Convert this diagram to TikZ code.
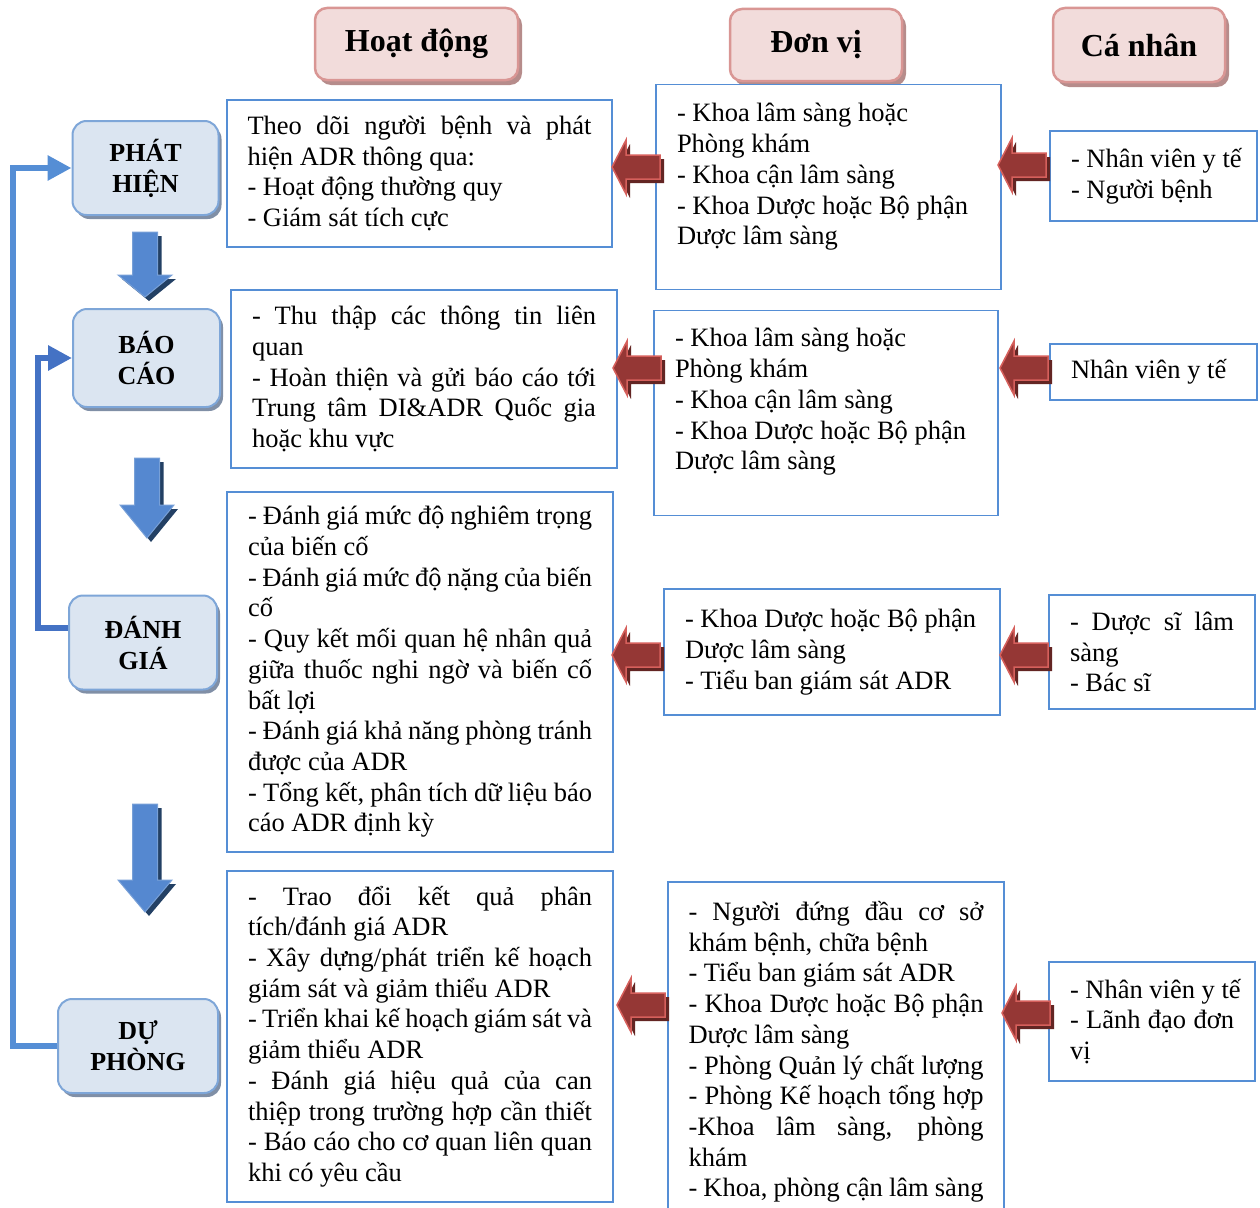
\documentclass[tikz,border=0pt]{standalone}
\usepackage{fontspec}
\setmainfont{Liberation Serif}
\usepackage{tikz}
\usetikzlibrary{shadows,arrows.meta}

\definecolor{boxblue}{RGB}{85,142,213}
\definecolor{stepfill}{RGB}{219,229,241}
\definecolor{stepline}{RGB}{126,166,216}
\definecolor{stepshadow}{RGB}{128,143,166}
\definecolor{headfill}{RGB}{242,220,219}
\definecolor{headline}{RGB}{217,150,148}
\definecolor{headshadow}{RGB}{182,140,139}
\definecolor{redfill}{RGB}{149,55,53}
\definecolor{rededge}{RGB}{214,96,92}
\definecolor{reddark}{RGB}{99,37,35}
\definecolor{bluefill}{RGB}{85,136,208}
\definecolor{blueedge}{RGB}{120,160,215}
\definecolor{bluedark}{RGB}{35,64,100}
\definecolor{loopblue}{RGB}{85,142,213}
\definecolor{loopdark}{RGB}{68,114,196}

\newcommand{\txtsize}{\fontsize{26.5}{30.7}\selectfont}
\newcommand{\jl}[2][\linewidth]{\makebox[#1][s]{#2}}
\newcommand{\padbot}[1]{\par\nointerlineskip\hbox{\vrule height #1 width 0pt}}

% left-pointing block arrow: tip x, y
\newcommand{\redleft}[2]{%
  \begin{scope}[xshift=4pt, yshift=-4pt]
    \fill[reddark] (#1,#2) -- (#1+14,#2-27) -- (#1+14,#2-12) -- (#1+48,#2-12)
      -- (#1+48,#2+12) -- (#1+14,#2+12) -- (#1+14,#2+27) -- cycle;
  \end{scope}
  \filldraw[fill=redfill, draw=rededge, line width=1.5pt] (#1,#2) -- (#1+14,#2-27)
    -- (#1+14,#2-12) -- (#1+48,#2-12) -- (#1+48,#2+12) -- (#1+14,#2+12)
    -- (#1+14,#2+27) -- cycle;
}

% down block arrow: x, top, head start, tip
\newcommand{\bluedown}[4]{%
  \begin{scope}[xshift=4pt, yshift=-4pt]
    \fill[bluedark] (#1-12.5,#2) -- (#1+12.5,#2) -- (#1+12.5,#3) -- (#1+27,#3)
      -- (#1,#4) -- (#1-27,#3) -- (#1-12.5,#3) -- cycle;
  \end{scope}
  \filldraw[fill=bluefill, draw=blueedge, line width=1pt] (#1-12.5,#2) -- (#1+12.5,#2)
    -- (#1+12.5,#3) -- (#1+27,#3) -- (#1,#4) -- (#1-27,#3) -- (#1-12.5,#3) -- cycle;
}

\begin{document}
\begin{tikzpicture}[x=1pt, y=-1pt,
  head/.style={draw=headline, line width=2.5pt, fill=headfill, rounded corners=12pt,
               minimum width=203pt, minimum height=72pt, font=\fontsize{32}{36}\selectfont\bfseries,
               drop shadow={shadow xshift=4pt, shadow yshift=-5pt, fill=headshadow, opacity=1}},
  stage/.style={draw=stepline, line width=2pt, fill=stepfill, rounded corners=14pt,
               minimum width=146pt, minimum height=94pt, align=center,
               font=\fontsize{26}{31}\selectfont\bfseries,
               drop shadow={shadow xshift=3pt, shadow yshift=-4pt, fill=stepshadow, opacity=1}},
  info/.style={draw=boxblue, line width=1.5pt, fill=white, inner sep=0pt,
               align=left, font=\txtsize,
               execute at begin node={\spaceskip=0pt\xspaceskip=0pt\relax}},
  loopout/.style={draw=loopblue, line width=6pt, -{Triangle[length=24pt, width=24pt]}},
  loopin/.style={draw=loopdark, line width=6pt, -{Triangle[length=24pt, width=24pt]}},
]
\useasboundingbox (0,0) rectangle (1260,1207);

% Column headers
\node[head] (hd) at (416.5,44) {Hoạt động};
\node[head, minimum width=172pt] (dv) at (816,45) {Đơn vị};
\node[head, minimum width=172pt, minimum height=74pt] (cn) at (1139,45) {Cá nhân};

% Stages
\node[stage] (ph) at (145.5,168) {PHÁT\\HIỆN};
\node[stage, minimum width=147pt, minimum height=98pt] (bc) at (146.5,358) {BÁO\\CÁO};
\node[stage, minimum width=148pt] (dg) at (143,642.5) {ĐÁNH\\GIÁ};
\node[stage, minimum width=160pt] (dp) at (138,1046) {DỰ\\PHÒNG};

\bluedown{145}{232}{275}{297}
\bluedown{147}{458}{505}{538}
\bluedown{145}{804}{880}{912}

% Feedback loops
\draw[loopout] (dp.west) -- ++(-44,0) |- (ph.west);
\draw[loopin] ([yshift=15pt]dg.west) -- ++(-30,0) |- (bc.west);

% Activities
\node[info, minimum width=385pt, minimum height=147pt, text width=344pt] (b1) at (419.5,173.5)
  {\jl{Theo dõi người bệnh và phát}\\hiện ADR thông qua:\\- Hoạt động thường quy\\- Giám sát tích cực};
\node[info, minimum width=386pt, minimum height=178pt, text width=344pt] (b2) at (424,379)
  {\jl{- Thu thập các thông tin liên}\\quan\\\jl{- Hoàn thiện và gửi báo cáo tới}\\
   \jl{Trung tâm DI\&ADR Quốc gia}\\hoặc khu vực};
\node[info, minimum width=386pt, minimum height=360pt, text width=344pt] (b3) at (420,672)
  {\jl{- Đánh giá mức độ nghiêm trọng}\\của biến cố\\\jl{- Đánh giá mức độ nặng của biến}\\cố\\
   \jl{- Quy kết mối quan hệ nhân quả}\\\jl{giữa thuốc nghi ngờ và biến cố}\\bất lợi\\
   \jl{- Đánh giá khả năng phòng tránh}\\được của ADR\\
   \jl{- Tổng kết, phân tích dữ liệu báo}\\cáo ADR định kỳ};
\node[info, minimum width=386pt, minimum height=331pt, text width=344pt] (b4) at (420,1036.5)
  {\jl{- Trao đổi kết quả phân}\\tích/đánh giá ADR\\\jl{- Xây dựng/phát triển kế hoạch}\\
   giám sát và giảm thiểu ADR\\\jl{- Triển khai kế hoạch giám sát và}\\giảm thiểu ADR\\
   \jl{- Đánh giá hiệu quả của can}\\\jl{thiệp trong trường hợp cần thiết}\\
   \jl{- Báo cáo cho cơ quan liên quan}\\khi có yêu cầu};

% Units
\node[info, minimum width=345pt, minimum height=205pt, text width=303pt] (c1) at (828.5,187)
  {- Khoa lâm sàng hoặc\\Phòng khám\\- Khoa cận lâm sàng\\- Khoa Dược hoặc Bộ phận\\
   Dược lâm sàng\padbot{20pt}};
\node[info, minimum width=344pt, minimum height=205pt, text width=302pt] (c2) at (826,413)
  {- Khoa lâm sàng hoặc\\Phòng khám\\- Khoa cận lâm sàng\\- Khoa Dược hoặc Bộ phận\\
   Dược lâm sàng\padbot{22pt}};
\node[info, minimum width=336pt, minimum height=126pt, text width=294pt] (c3) at (832,652)
  {- Khoa Dược hoặc Bộ phận\\Dược lâm sàng\\- Tiểu ban giám sát ADR};
\node[info, minimum width=336pt, minimum height=340pt, text width=295pt] (c4) at (836,1052)
  {\jl{- Người đứng đầu cơ sở}\\khám bệnh, chữa bệnh\\- Tiểu ban giám sát ADR\\
   \jl{- Khoa Dược hoặc Bộ phận}\\Dược lâm sàng\\\jl{- Phòng Quản lý chất lượng}\\
   \jl{- Phòng Kế hoạch tổng hợp}\\\jl{-Khoa lâm sàng, phòng}\\khám\\
   \jl{- Khoa, phòng cận lâm sàng}};

% Individuals
\node[info, minimum width=207pt, minimum height=90pt, text width=165pt] (d1) at (1153.5,176)
  {\mbox{- Nhân viên y tế}\\- Người bệnh};
\node[info, minimum width=207pt, minimum height=56pt, text width=165pt] (d2) at (1153.5,372)
  {Nhân viên y tế};
\node[info, minimum width=206pt, minimum height=114pt, text width=164pt] (d3) at (1152,652)
  {\jl{- Dược sĩ lâm}\\sàng\\- Bác sĩ};
\node[info, minimum width=206pt, minimum height=119pt, text width=164pt] (d4) at (1152,1021.5)
  {\mbox{- Nhân viên y tế}\\\jl{- Lãnh đạo đơn}\\vị};

% Block arrows
\redleft{612}{167}
\redleft{998}{165}
\redleft{613}{368}
\redleft{1000}{368}
\redleft{612}{655}
\redleft{1000}{655}
\redleft{617}{1005}
\redleft{1002}{1013}

\end{tikzpicture}
\end{document}
